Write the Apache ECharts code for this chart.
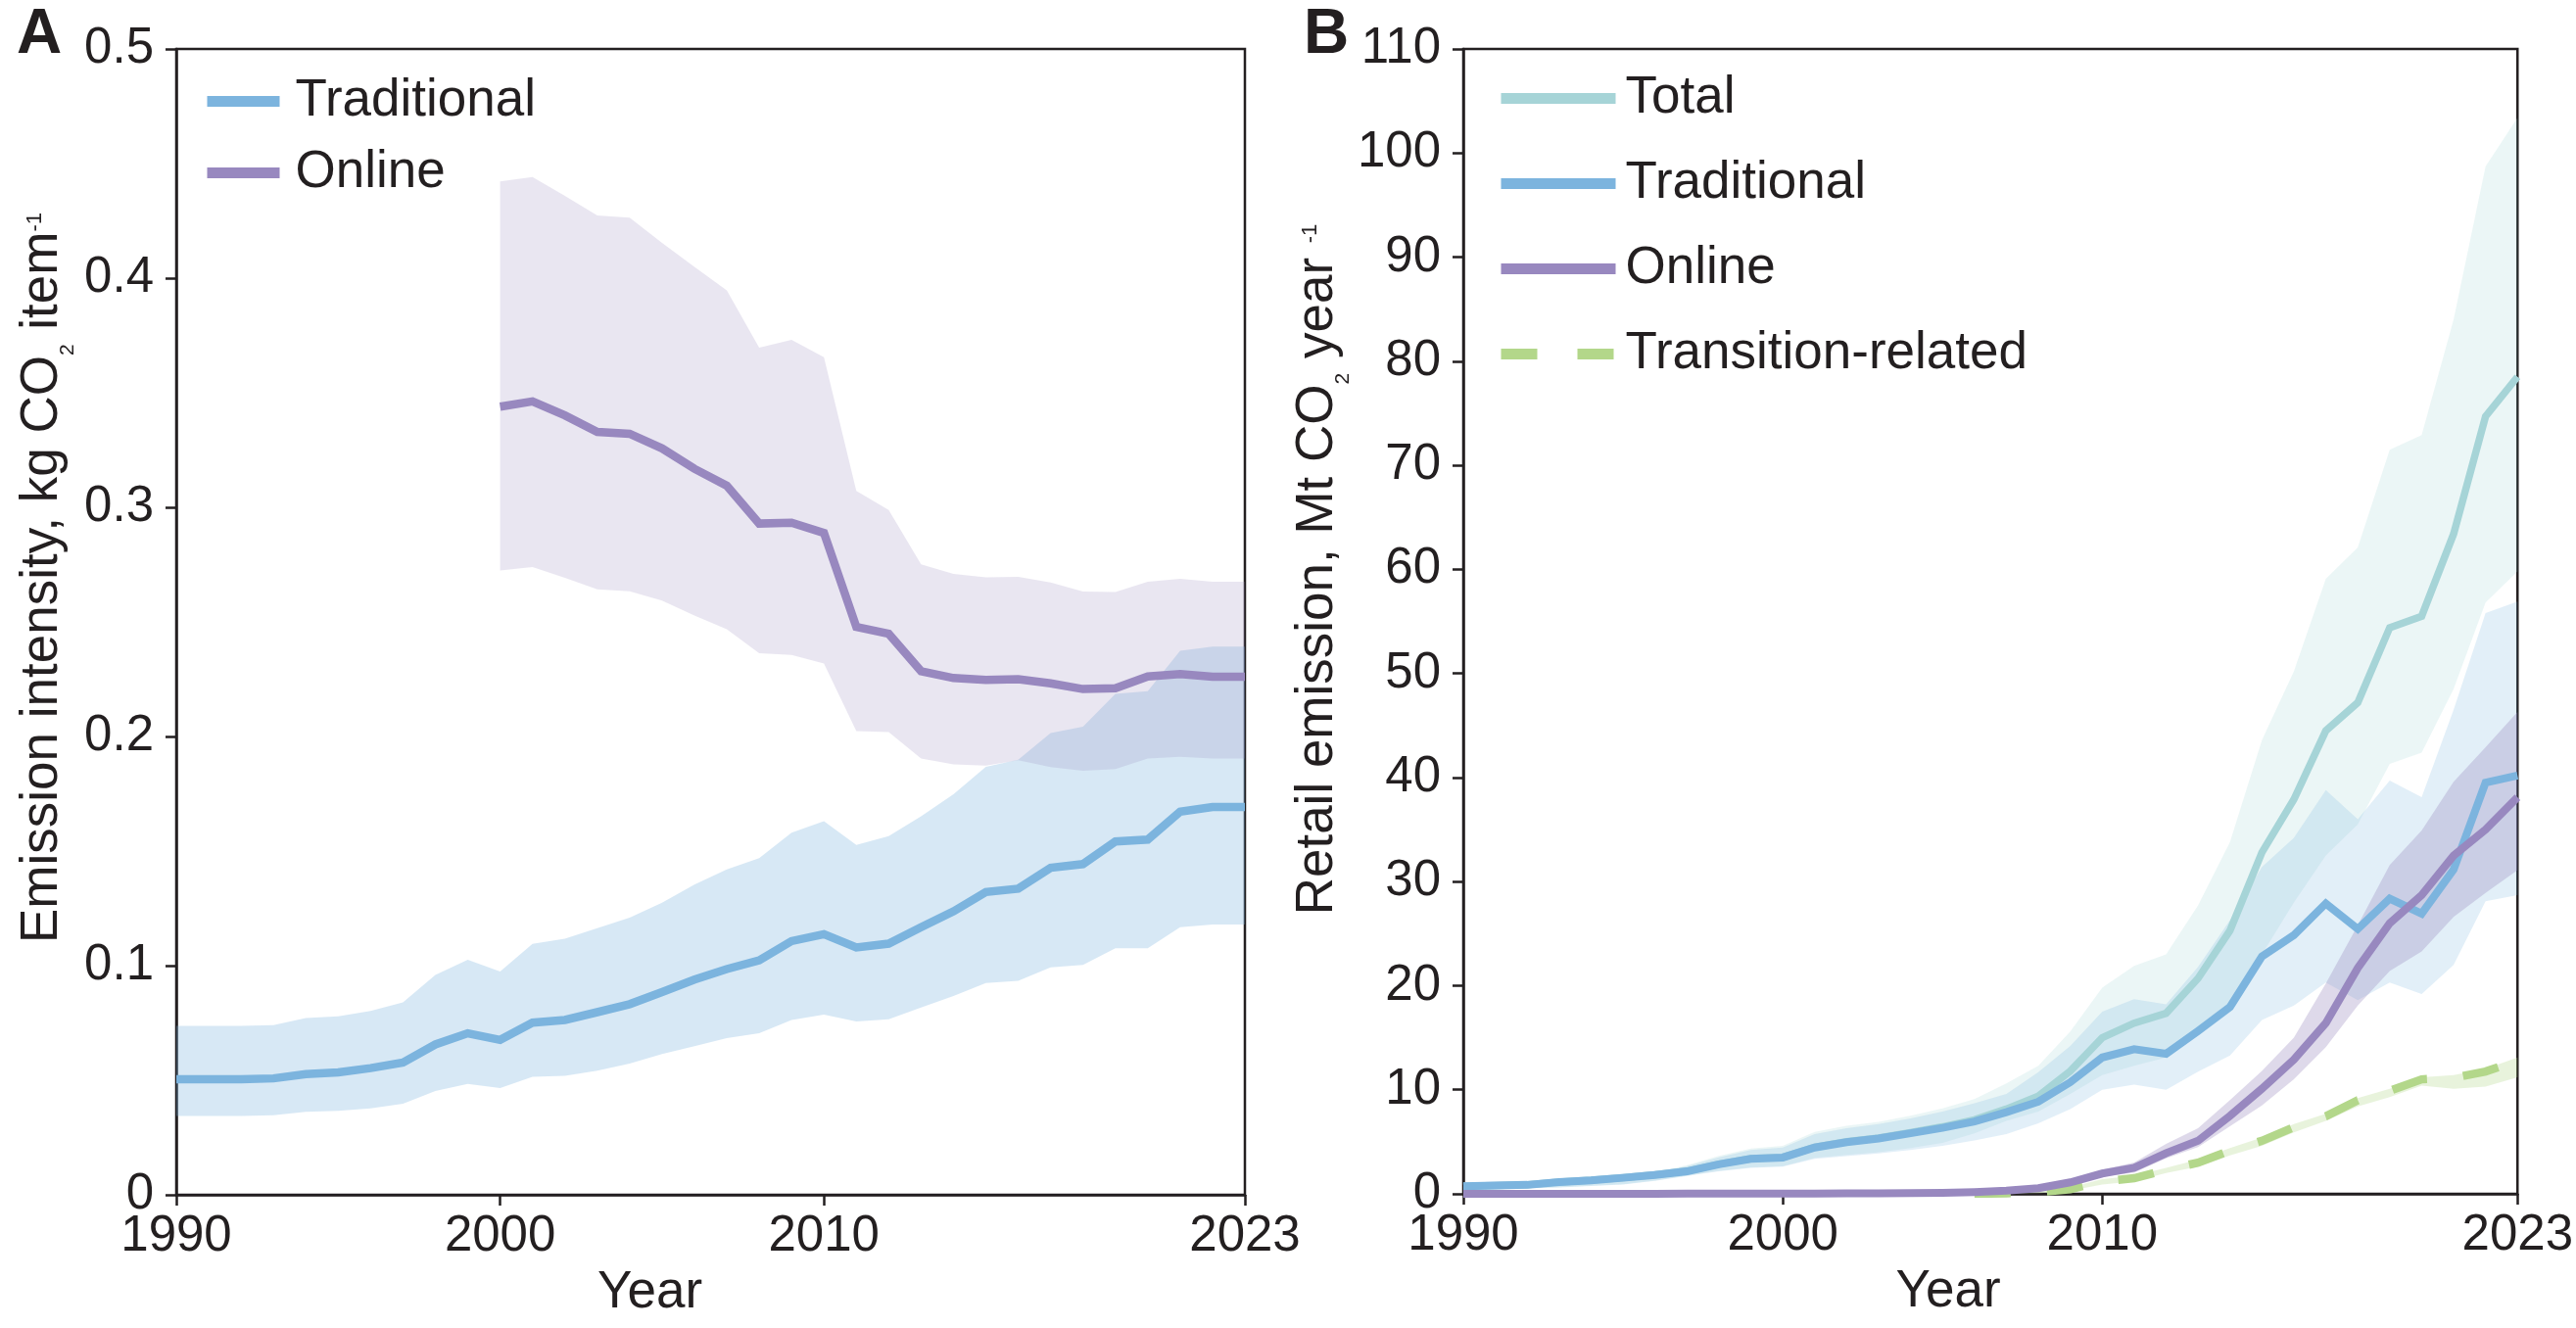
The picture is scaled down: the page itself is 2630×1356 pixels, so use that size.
<!DOCTYPE html>
<html>
<head>
<meta charset="utf-8">
<script src="https://cdn.jsdelivr.net/npm/echarts@6/dist/echarts.min.js"></script>
<style>
html,body{margin:0;padding:0;background:#ffffff;}
#chart{width:2630px;height:1356px;}
</style>
</head>
<body>
<div id="chart"></div>
<script>
// ---------- DATA ----------
const years = [1990,1991,1992,1993,1994,1995,1996,1997,1998,1999,2000,2001,2002,2003,2004,2005,2006,2007,2008,2009,2010,2011,2012,2013,2014,2015,2016,2017,2018,2019,2020,2021,2022,2023];
const yearsOnlineA = [2000,2001,2002,2003,2004,2005,2006,2007,2008,2009,2010,2011,2012,2013,2014,2015,2016,2017,2018,2019,2020,2021,2022,2023];
const yearsTransition = [2006,2007,2008,2009,2010,2011,2012,2013,2014,2015,2016,2017,2018,2019,2020,2021,2022,2023];
const xTickValues = [1990, 2000, 2010, 2023];

// Panel A: emission intensity (kg CO2 per item)
const tradA_mean  = [0.0504,0.0504,0.0504,0.0508,0.0527,0.0534,0.0553,0.0577,0.0656,0.0705,0.0676,0.0751,0.0763,0.0797,0.0832,0.0885,0.0939,0.0985,0.1023,0.1107,0.1137,0.1079,0.1096,0.1168,0.1237,0.1321,0.1336,0.1427,0.1443,0.1542,0.1550,0.1672,0.1692,0.1692];
const tradA_upper = [0.0737,0.0737,0.0737,0.0740,0.0771,0.0779,0.0802,0.0840,0.0959,0.1026,0.0974,0.1095,0.1118,0.1163,0.1209,0.1275,0.1354,0.1420,0.1469,0.1580,0.1630,0.1527,0.1565,0.1652,0.1748,0.1867,0.1898,0.2015,0.2043,0.2186,0.2198,0.2374,0.2392,0.2392];
const tradA_lower = [0.0344,0.0344,0.0344,0.0347,0.0362,0.0366,0.0377,0.0397,0.0453,0.0484,0.0466,0.0515,0.0519,0.0542,0.0573,0.0614,0.0649,0.0684,0.0705,0.0763,0.0786,0.0756,0.0766,0.0817,0.0867,0.0924,0.0934,0.0992,0.1003,0.1076,0.1076,0.1168,0.1180,0.1180];
const onlineA_mean  = [0.3439,0.3462,0.3401,0.3329,0.3321,0.3257,0.3168,0.3094,0.2929,0.2933,0.2888,0.2478,0.2448,0.2285,0.2255,0.2247,0.2250,0.2232,0.2207,0.2210,0.2262,0.2272,0.2261,0.2261];
const onlineA_upper = [0.4422,0.4441,0.4359,0.4273,0.4264,0.4154,0.4049,0.3947,0.3697,0.3731,0.3655,0.3072,0.2988,0.2751,0.2709,0.2694,0.2697,0.2672,0.2633,0.2630,0.2675,0.2688,0.2675,0.2675];
const onlineA_lower = [0.2724,0.2739,0.2692,0.2642,0.2634,0.2593,0.2528,0.2468,0.2363,0.2356,0.2318,0.2024,0.2019,0.1904,0.1878,0.1873,0.1896,0.1866,0.1850,0.1858,0.1904,0.1911,0.1904,0.1904];

// Panel B: retail emission (Mt CO2 per year)
const totalB_mean  = [0.73,0.80,0.87,1.14,1.31,1.55,1.83,2.18,2.86,3.38,3.51,4.48,5.01,5.36,5.89,6.44,7.12,8.15,9.40,11.80,15.00,16.40,17.35,20.70,25.30,32.80,37.90,44.50,47.20,54.40,55.50,63.40,74.70,78.50];
const totalB_upper = [0.97,1.07,1.18,1.38,1.53,1.66,2.07,2.75,3.65,4.35,4.60,5.95,6.55,6.92,7.50,8.20,9.10,10.60,12.30,15.60,19.80,21.90,23.00,27.70,33.80,43.60,50.20,59.10,62.10,71.50,72.90,84.00,98.70,103.40];
const totalB_lower = [0.40,0.47,0.54,0.64,0.77,0.91,1.27,1.73,2.20,2.55,2.65,3.45,3.75,4.00,4.40,4.90,5.80,7.00,7.90,9.60,11.40,12.30,13.10,15.50,18.00,23.00,28.00,32.50,35.50,41.30,42.40,48.50,56.80,59.80];
const tradB_mean  = [0.72,0.79,0.86,1.13,1.30,1.54,1.82,2.16,2.84,3.36,3.49,4.45,4.97,5.31,5.82,6.34,6.95,7.85,8.85,10.72,13.10,13.90,13.45,15.65,17.95,22.80,24.86,27.90,25.45,28.36,26.92,31.16,39.50,40.20];
const tradB_upper = [0.95,1.05,1.15,1.35,1.50,1.62,2.00,2.65,3.50,4.20,4.45,5.75,6.30,6.70,7.25,7.90,8.70,9.60,11.70,14.20,17.50,18.70,18.20,21.80,26.30,31.40,34.20,38.80,36.00,39.70,38.10,46.50,55.80,56.90];
const tradB_lower = [0.38,0.45,0.52,0.62,0.75,0.89,1.25,1.71,2.16,2.50,2.60,3.36,3.63,3.87,4.21,4.62,5.14,5.75,6.78,8.15,10.00,10.50,10.00,11.75,13.30,16.70,18.10,20.30,18.60,20.30,19.20,22.00,28.10,28.70];
const onlineB_mean  = [0.01,0.01,0.01,0.01,0.01,0.01,0.01,0.02,0.02,0.02,0.02,0.03,0.04,0.05,0.07,0.10,0.17,0.30,0.55,1.10,1.95,2.50,3.90,5.10,7.50,10.10,12.90,16.40,21.70,26.00,28.70,32.50,35.00,38.10];
const onlineB_upper = [0.02,0.02,0.02,0.02,0.02,0.02,0.02,0.03,0.03,0.03,0.03,0.05,0.06,0.08,0.10,0.14,0.24,0.42,0.72,1.35,2.30,3.00,4.80,6.30,9.00,11.80,15.00,20.20,25.80,31.60,34.90,39.60,42.90,46.30];
const onlineB_lower = [0.00,0.00,0.00,0.00,0.00,0.00,0.00,0.01,0.01,0.01,0.01,0.02,0.02,0.03,0.04,0.06,0.11,0.20,0.40,0.90,1.65,2.05,3.40,4.50,6.50,8.50,11.00,14.10,18.10,21.40,23.30,26.60,28.90,31.10];
const transB_mean  = [0.00,0.05,0.15,0.45,1.20,1.50,2.30,3.00,4.15,5.10,6.40,7.45,9.00,9.90,11.00,11.15,11.75,12.80];
const transB_upper = [0.00,0.10,0.25,0.60,1.40,1.75,2.50,3.30,4.40,5.40,6.70,7.70,9.20,10.10,11.20,11.40,12.00,13.10];
const transB_lower = [0.00,0.00,0.05,0.30,0.90,1.20,2.00,2.60,3.70,4.60,5.90,7.00,8.40,9.30,10.40,10.10,10.30,11.20];

// ---------- STYLE ----------
const FONT = '"Liberation Sans", Arial, Helvetica, sans-serif';
const INK = '#231f20';
const C_TRAD = '#7cb4de', C_ONLINE = '#9888bf', C_TOTAL = '#a6d4d7', C_TRANS = '#b3d78a';

function pairs(xs, ys){ return xs.map((x,i)=>[x, ys[i]]); }

// Uncertainty band drawn as one polygon, positioned through the axes' scales (api.coord)
function band(id, gi, xs, lo, hi, color){
  return {
    name: id, type:'custom', xAxisIndex:gi, yAxisIndex:gi, silent:true, z:1, animation:false, clip:true,
    data: xs.map((x,i)=>[x, lo[i], hi[i]]),
    encode:{x:0, y:[1,2]},
    renderItem: function(params, api){
      if (params.dataIndex !== 0) return null;
      const pts = [];
      for (let i = 0; i < xs.length; i++) pts.push(api.coord([xs[i], hi[i]]));
      for (let i = xs.length - 1; i >= 0; i--) pts.push(api.coord([xs[i], lo[i]]));
      return {type:'polygon', shape:{points:pts}, style:{fill:color}};
    }
  };
}
function mainLine(name, gi, xs, ys, color, width, type){
  return {name:name, type:'line', xAxisIndex:gi, yAxisIndex:gi, data:pairs(xs,ys), symbol:'none',
    lineStyle:{color:color, width:width, type:type||'solid', cap:'butt', join:'miter'}, itemStyle:{color:color},
    z:3, animation:false};
}
function xAxisCfg(gi, namePad){
  return {type:'value', gridIndex:gi, min:1990, max:2023,
    axisLine:{show:true, lineStyle:{color:INK, width:2.5}},
    axisTick:{show:true, inside:false, length:11, lineStyle:{color:INK, width:2.5}, customValues:xTickValues},
    axisLabel:{show:true, margin:17, color:INK, fontSize:51, fontFamily:FONT, customValues:xTickValues,
      formatter:function(v){ return String(v); }},
    splitLine:{show:false},
    name:'Year', nameLocation:'middle', nameGap:74,
    nameTextStyle:{color:INK, fontSize:53, fontFamily:FONT, padding:[0,namePad,0,0]}};
}
function yAxisCfg(gi, max, interval, name, gap, shiftPad){
  return {type:'value', gridIndex:gi, min:0, max:max, interval:interval,
    axisLine:{show:true, lineStyle:{color:INK, width:2.5}},
    axisTick:{show:true, inside:false, length:11, lineStyle:{color:INK, width:2.5}},
    axisLabel:{show:true, margin:23, color:INK, fontSize:51, fontFamily:FONT},
    splitLine:{show:false},
    name:name, nameLocation:'middle', nameRotate:90, nameGap:gap,
    nameTextStyle:{color:INK, fontFamily:FONT, fontSize:53, lineHeight:74, padding:[0,0,0,shiftPad],
      rich:{
        m:{color:INK, fontFamily:FONT, fontSize:53, lineHeight:74},
        s:{color:INK, fontFamily:FONT, fontSize:21, lineHeight:22, verticalAlign:'bottom'},
        p:{color:INK, fontFamily:FONT, fontSize:22, lineHeight:22, verticalAlign:'top', padding:[19,0,0,0]}
      }}};
}

const series = [
  band('tradA', 0, years, tradA_lower, tradA_upper, 'rgba(124,180,222,0.30)'),
  band('onlineA', 0, yearsOnlineA, onlineA_lower, onlineA_upper, 'rgba(152,136,191,0.21)'),
  mainLine('Traditional', 0, years, tradA_mean, C_TRAD, 8.5),
  mainLine('Online', 0, yearsOnlineA, onlineA_mean, C_ONLINE, 8.5),
  band('totalB', 1, years, totalB_lower, totalB_upper, 'rgba(166,212,215,0.22)'),
  band('tradB', 1, years, tradB_lower, tradB_upper, 'rgba(124,180,222,0.22)'),
  band('onlineB', 1, years, onlineB_lower, onlineB_upper, 'rgba(152,136,191,0.32)'),
  band('transB', 1, yearsTransition, transB_lower, transB_upper, 'rgba(179,215,138,0.30)'),
  mainLine('Total', 1, years, totalB_mean, C_TOTAL, 7.5),
  mainLine('Transition-related', 1, yearsTransition, transB_mean, C_TRANS, 8.5, [37,37]),
  mainLine('Traditional', 1, years, tradB_mean, C_TRAD, 8),
  mainLine('Online', 1, years, onlineB_mean, C_ONLINE, 8)
];

const option = {
  backgroundColor:'#ffffff',
  animation:false,
  textStyle:{fontFamily:FONT, color:INK},
  grid:[
    {left:180, top:50, width:1091, height:1170, show:true, borderColor:INK, borderWidth:2.5, backgroundColor:'transparent', containLabel:false},
    {left:1494, top:50, width:1079, height:1169, show:true, borderColor:INK, borderWidth:2.5, backgroundColor:'transparent', containLabel:false}
  ],
  xAxis:[xAxisCfg(0,124), xAxisCfg(1,86)],
  yAxis:[
    yAxisCfg(0, 0.5, 0.1, '{m|Emission intensity, kg CO}{s|2}{m| item}{p|-1}', 100, 90),
    yAxisCfg(1, 110, 10, '{m|Retail emission, Mt CO}{s|2}{m| year }{p|-1}', 88, 106)
  ],
  legend:[
    {orient:'vertical', left:206, top:77, padding:0, itemWidth:74, itemHeight:12, itemGap:20,
     data:['Traditional','Online'], selectedMode:false,
     lineStyle:{width:11}, itemStyle:{opacity:0},
     textStyle:{color:INK, fontSize:53, fontFamily:FONT, padding:[0,0,0,11]}},
    {orient:'vertical', left:1527, top:74, padding:0, itemWidth:117, itemHeight:12, itemGap:34,
     data:['Total','Traditional','Online',{name:'Transition-related', lineStyle:{type:[37,41]}}], selectedMode:false,
     lineStyle:{width:11}, itemStyle:{opacity:0},
     textStyle:{color:INK, fontSize:53, fontFamily:FONT, padding:[0,0,0,5]}}
  ],
  graphic:[
    {type:'text', left:17, top:4, style:{text:'A', font:'bold 64px '+FONT, fill:INK}},
    {type:'text', left:1331, top:4, style:{text:'B', font:'bold 64px '+FONT, fill:INK}}
  ],
  series:series
};

const chart = echarts.init(document.getElementById('chart'), null, {renderer:'canvas'});
chart.setOption(option);
</script>
</body>
</html>
